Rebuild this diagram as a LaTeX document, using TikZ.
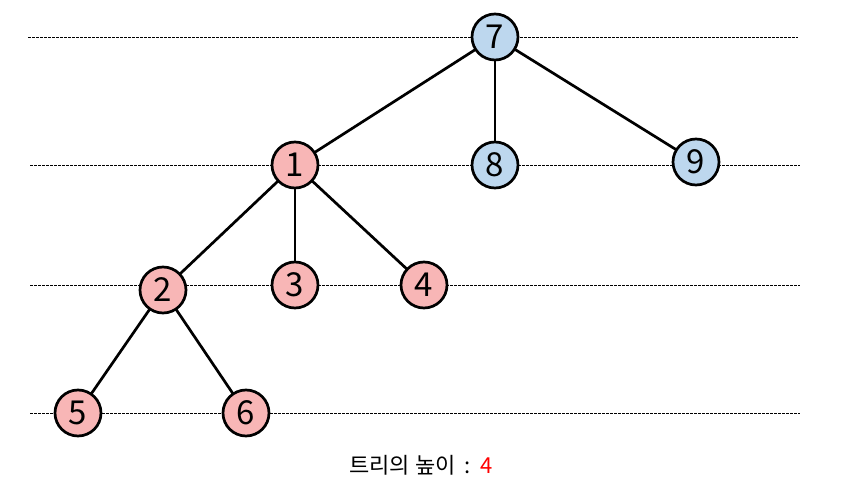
\documentclass[tikz,border=0pt]{standalone}
\usepackage{fontspec}
\setmainfont{Noto Sans CJK KR}
\usepackage{tikz}
\usetikzlibrary{arrows.meta,positioning,calc}
\definecolor{nodeBlue}{RGB}{189,215,238}
\definecolor{nodePink}{RGB}{248,182,182}
\definecolor{heightRed}{RGB}{255,0,0}
\tikzset{
  tree node blue/.style={circle,draw=black,fill=nodeBlue,line width=2.7pt,inner sep=0pt,minimum size=46pt,font=\fontsize{33}{33}\selectfont},
  tree node pink/.style={circle,draw=black,fill=nodePink,line width=2.7pt,inner sep=0pt,minimum size=46pt,font=\fontsize{33}{33}\selectfont},
  tree edge/.style={line width=2.7pt,draw=black},
  level line/.style={draw=black,line width=0.8pt,dash pattern=on 2.5pt off 1.5pt}
}

\begin{document}
\begin{tikzpicture}[x=1pt,y=-1pt]
          \useasboundingbox (0,0) rectangle (843,502);
          % level lines
          \draw[level line] (28,37) -- (798,37);
          \draw[level line] (30,165) -- (800,165);
          \draw[level line] (30,285) -- (800,285);
          \draw[level line] (30,413) -- (800,413);
          % edges first, nodes on top
          \coordinate (p7) at (495,37);
          \coordinate (p1) at (295,165);
          \coordinate (p8) at (495,165);
          \coordinate (p9) at (696,162);
          \coordinate (p2) at (163,290);
          \coordinate (p3) at (295,285);
          \coordinate (p4) at (424,285);
          \coordinate (p5) at (78,413);
          \coordinate (p6) at (246,413);
          \draw[tree edge] (p7) -- (p1);
          \draw[tree edge] (p7) -- (p8);
          \draw[tree edge] (p7) -- (p9);
          \draw[tree edge] (p1) -- (p2);
          \draw[tree edge] (p1) -- (p3);
          \draw[tree edge] (p1) -- (p4);
          \draw[tree edge] (p2) -- (p5);
          \draw[tree edge] (p2) -- (p6);
          \node[tree node blue] (n7) at (p7) {7};
          \node[tree node blue] (n8) at (p8) {8};
          \node[tree node blue] (n9) at (p9) {9};
          \node[tree node pink] (n1) at (p1) {1};
          \node[tree node pink] (n2) at (p2) {2};
          \node[tree node pink] (n3) at (p3) {3};
          \node[tree node pink] (n4) at (p4) {4};
          \node[tree node pink] (n5) at (p5) {5};
          \node[tree node pink] (n6) at (p6) {6};
          \node[font=\fontsize{22}{22}\selectfont] (height) at (421,465) {트리의 높이 \,:\, \textcolor{heightRed}{4}};
        \end{tikzpicture}
\end{document}
